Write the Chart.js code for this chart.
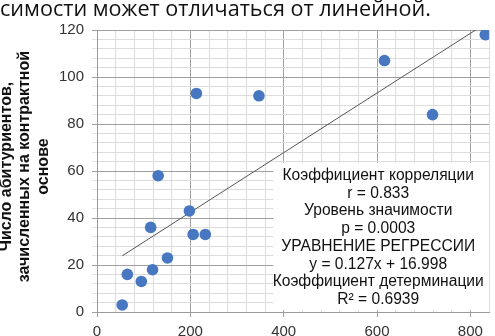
<!DOCTYPE html>
<html lang="ru">
<head>
  <meta charset="UTF-8">
  <title>Scatter</title>
  <script src="https://cdn.jsdelivr.net/npm/chart.js"></script>
  <style>
    body { margin: 0; background: #fff; }
    .wrap { position: relative; width: 495px; height: 336px; overflow: hidden; }
    .topText {
      position: absolute; left: 0; top: -7px;
      font-family: "Open Sans", sans-serif; font-size: 21.6px; color: #111;
      white-space: nowrap;
    }
    canvas { position: absolute; left: 0; top: 0; }
  </style>
</head>
<body>
  <div class="wrap">
    <canvas id="myChart" width="495" height="336"></canvas>
    <div class="topText">симости может отличаться от линейной.</div>
  </div>

  <script>
    // values
    const xValues = [54, 65, 95, 115, 119, 131, 151, 198, 206, 213, 232, 347, 616, 719, 832];
    const yValues = [3, 16, 13, 36, 18, 58, 23, 43, 33, 93, 33, 92, 107, 84, 118];

    // trend line ends (as drawn in the picture)
    const trendX = [54, 835];
    const trendY = [23.9, 123.0];

    const xTicksShown = [0, 200, 400, 600, 800];
    const yTicksShown = [0, 20, 40, 60, 80, 100, 120];

    // leading spaces nudge the rotated title up a little, as in the picture
    const yTitle = ["  Число абитуриентов,", "  зачисленных на контрактной", "  основе"];
    const statsLines = [
      "Коэффициент корреляции",
      "r = 0.833",
      "Уровень значимости",
      "p = 0.0003",
      "УРАВНЕНИЕ РЕГРЕССИИ",
      "y = 0.127x + 16.998",
      "Коэффициент детерминации",
      "R² = 0.6939"
    ];

    const points = xValues.map((x, i) => ({ x: x, y: yValues[i] }));
    const trend = trendX.map((x, i) => ({ x: x, y: trendY[i] }));

    // white box with the statistics text
    const statsBox = {
      id: 'statsBox',
      afterDatasetsDraw(chart) {
        const { ctx, scales } = chart;
        const left = scales.x.getPixelForValue(378);
        const right = chart.chartArea.right;
        const top = scales.y.getPixelForValue(63.5);
        const bottom = chart.chartArea.bottom - 2;
        ctx.save();
        ctx.fillStyle = '#fff';
        ctx.fillRect(left, top, right - left, bottom - top);
        ctx.fillStyle = '#111';
        ctx.font = '15.6px "Liberation Sans", Arial, sans-serif';
        ctx.textAlign = 'center';
        ctx.textBaseline = 'middle';
        const cx = (left + right) / 2 - 3;
        statsLines.forEach((t, i) => {
          ctx.fillText(t, cx, top + 13 + i * 17.7);
        });
        ctx.restore();
      }
    };

    new Chart(document.getElementById('myChart'), {
      type: 'scatter',
      data: {
        datasets: [{
          data: points,
          backgroundColor: '#4677C0',
          borderWidth: 0,
          pointRadius: 5.8,
          pointHoverRadius: 5.8
        }, {
          type: 'line',
          data: trend,
          borderColor: '#555',
          borderWidth: 1,
          pointRadius: 0,
          fill: false
        }]
      },
      options: {
        responsive: false,
        animation: false,
        events: [],
        layout: { padding: { top: 30, right: 2, left: 0, bottom: 0 } },
        plugins: { legend: { display: false }, tooltip: { enabled: false } },
        scales: {
          x: {
            type: 'linear',
            min: 0,
            max: 840,
            afterFit: (scale) => { scale.height = 24; },
            ticks: {
              stepSize: 40,
              autoSkip: false,
              maxRotation: 0,
              padding: 6,
              color: '#333',
              font: { family: '"Liberation Sans", Arial, sans-serif', size: 15 },
              callback: (v) => xTicksShown.includes(v) ? v : ''
            },
            grid: {
              color: (c) => xTicksShown.includes(c.tick.value) ? '#a0a0a0' : '#dcdcdc',
              tickLength: 5,
              tickColor: (c) => xTicksShown.includes(c.tick.value) ? '#a0a0a0' : 'rgba(0,0,0,0)'
            },
            border: { color: '#9a9a9a' }
          },
          y: {
            min: 0,
            max: 120,
            afterFit: (scale) => { scale.width = 97; },
            ticks: {
              stepSize: 4,
              autoSkip: false,
              padding: 8,
              color: '#333',
              font: { family: '"Liberation Sans", Arial, sans-serif', size: 15 },
              callback: (v) => yTicksShown.includes(v) ? v : ''
            },
            grid: {
              color: (c) => yTicksShown.includes(c.tick.value) ? '#a0a0a0' : '#dcdcdc',
              tickLength: 5,
              tickColor: (c) => yTicksShown.includes(c.tick.value) ? '#a0a0a0' : '#e4e4e4'
            },
            border: { color: '#9a9a9a' },
            title: {
              display: true,
              text: yTitle,
              color: '#111',
              padding: { top: -3, bottom: 0 },
              font: { family: '"Liberation Sans", Arial, sans-serif', size: 16, weight: 'bold', lineHeight: 1.17 }
            }
          }
        }
      },
      plugins: [statsBox]
    });
  </script>
</body>
</html>
